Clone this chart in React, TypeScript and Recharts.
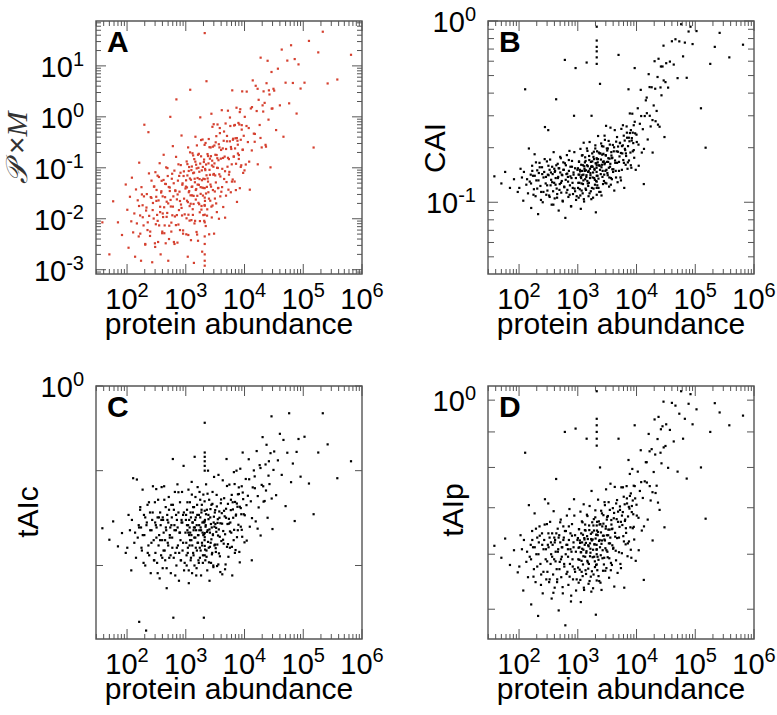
import React from "react";
import { ScatterChart, Scatter, XAxis, YAxis, ReferenceArea } from "recharts";

// protein abundance is shared by the four panels (same genes, same order)
const abundance = [
  38, 50, 58, 70, 82, 95,
  101, 106, 112, 118, 121, 127, 133, 137, 142, 147, 152, 158, 161, 167, 173, 179, 184, 191,
  197, 204, 211, 217, 223, 231, 238, 246, 253, 261, 268, 276, 284, 291, 298, 304, 309, 314,
  318, 325, 331, 338, 344, 352, 359, 366, 373, 380, 388, 396, 404, 411, 420, 428, 437, 446,
  455, 464, 473, 483, 493, 503, 513, 523, 534, 545, 556, 567, 578, 590, 602, 614, 627, 640,
  652, 665, 679, 692, 706, 721, 735, 750, 765, 781, 797, 813, 829, 846, 863, 881, 899, 917, 935,
  1005, 1020, 1035, 1050, 1065, 1080, 1095, 1110, 1125, 1140,
  1160, 1175, 1190, 1210, 1225, 1245, 1260, 1280, 1300, 1320,
  1335, 1355, 1375, 1395, 1415, 1440, 1460, 1480, 1500, 1525,
  1545, 1570, 1590, 1615, 1640, 1665, 1690, 1715, 1740, 1765,
  1790, 1820, 1845, 1875, 1900, 1930, 1960, 1990, 2030, 2060,
  2090, 2120, 2150, 2185, 2215, 2250, 2285, 2320, 2355, 2390,
  2425, 2460, 2500, 2535, 2575, 2610, 2650, 2690, 2730, 2770,
  2815, 2855, 2900, 2940, 2985, 3030, 3075, 3120,
  2100, 2100, 2100, 2100, 2100, 2100, 2100, 2100, 2100, 2100, 2100, 2100,
  3170, 3230, 3290, 3350, 3410, 3470, 3540, 3600, 3670, 3740,
  3810, 3880, 3950, 4030, 4100, 4180, 4260, 4340, 4420, 4500,
  4590, 4670, 4760, 4850, 4940, 5030, 5130, 5220, 5320, 5420,
  5520, 5630, 5730, 5840, 5950, 6060, 6180, 6290, 6410, 6530,
  6650, 6780, 6900, 7030, 7170, 7300, 7440, 7580, 7720, 7870,
  8010, 8160, 8320, 8470, 8630, 8800, 8960, 9130, 9300, 9480,
  10100, 10500, 10900, 11400, 11800, 12300, 12800, 13300, 13800, 14400,
  14900, 15500, 16100, 16800, 17400, 18100, 18800, 19600, 20300, 21100,
  22000, 22800, 23700, 24700, 25600, 26600, 27700, 28800, 29900, 31100,
  32000, 34500, 37000, 40000, 43000, 46000, 50000, 53500, 57500, 62000, 66500, 71500, 77000, 83000, 90000,
  105000, 125000, 150000, 180000, 215000, 260000,
  380000, 650000,
  // denser core
  160, 168, 176, 185, 194, 204, 214, 225, 236, 248, 260, 273, 287, 301, 316, 332, 349, 366, 384, 398,
  405, 418, 431, 444, 458, 472, 487, 502, 518, 534, 551, 568, 586, 604, 623, 642, 662, 683, 704, 726,
  749, 772, 796, 821, 847, 873, 900, 928, 957, 987,
  1012, 1030, 1048, 1066, 1085, 1104, 1123, 1143, 1163, 1183, 1204, 1225, 1246, 1268, 1290, 1312,
  1335, 1358, 1382, 1406, 1430, 1455, 1481, 1506, 1533, 1559, 1587, 1614, 1643, 1671, 1700, 1730,
  1760, 1791, 1822, 1854, 1886, 1919, 1952, 1986,
  2010, 2050, 2090, 2130, 2170, 2210, 2255, 2300, 2345, 2390, 2435, 2480, 2530, 2580, 2630, 2680,
  2730, 2785, 2840, 2895, 2950, 3010, 3070, 3130, 3190, 3250, 3310, 3380, 3440, 3510, 3580, 3650,
  3720, 3790, 3870,
  3990, 4150, 4310, 4480, 4660, 4840, 5030, 5230, 5430, 5650, 5870, 6100, 6340, 6590, 6850, 7120,
  7400, 7690, 7990, 8300, 8630, 8970, 9320, 9690, 9990,
  10800, 12000, 13400, 15000, 16700, 18700, 20800, 23200, 26000, 29000,
];

// panel A: P x M
const pxm = [
  0.0085, 0.002, 0.022, 0.0085, 0.0048, 0.047,
  0.015, 0.0027, 0.027, 0.0089, 0.064, 0.0054, 0.0127, 0.0018, 0.0376, 0.0081, 0.023, 0.0045,
  0.126, 0.0116, 0.0015, 0.03, 0.0184, 0.0074, 0.7, 0.0031, 0.0145, 0.0305, 0.006, 0.5,
  0.0114, 0.0046, 0.0266, 0.056, 0.0014, 0.0204, 0.0101, 0.043, 0.0033, 0.082, 0.0078, 0.027,
  0.0367, 0.0119, 0.07, 0.0035, 0.0229, 0.0074, 0.123, 0.0172, 0.002, 0.0327, 0.0556, 0.0052,
  0.0275, 0.0108, 0.18, 0.0168, 0.0074, 0.0484, 0.0033, 0.102, 0.0216, 0.013, 0.069, 0.0015,
  0.042, 0.0073, 0.035, 1.0, 0.0174, 0.0056, 0.061, 0.0117, 0.266, 0.0275, 0.0035, 0.088,
  0.0111, 0.035, 0.0075, 2.2, 0.024, 0.0034, 0.056, 0.117, 0.0148, 0.034, 0.006, 0.08, 0.019,
  0.43, 0.0116, 0.0495, 0.0051, 0.069, 0.0248,
  0.0427, 0.00495, 0.133, 0.0226, 0.0708, 0.0018, 0.251, 0.012, 0.0331, 0.1035,
  0.0092, 0.0617, 3.4, 0.0197, 0.0038, 0.09, 0.0422, 0.0288, 0.193, 0.0119,
  0.0785, 0.0195, 0.00136, 0.148, 0.061, 0.0091, 0.407, 0.0367, 0.115, 0.0055,
  0.275, 0.0282, 0.0468, 0.0037, 0.1, 0.188, 0.0193, 0.06, 0.009, 0.977,
  0.0417, 0.168, 0.0151, 0.089, 0.00226, 0.359, 0.0285, 0.061, 0.13, 0.0091,
  0.282, 0.0224, 0.09, 0.0072, 0.116, 5.0, 0.0422, 0.0153, 0.0617, 0.17,
  0.0331, 0.367, 0.00495, 0.0912, 0.151, 0.0226, 0.251, 0.0427, 1.15, 0.0106,
  0.138, 0.0182, 0.26, 0.0733, 0.716, 0.0051, 0.122, 0.0343,
  0.0012, 0.0015, 0.002, 0.0032, 0.0045, 44, 0.0085, 0.012, 0.018, 0.026, 0.04, 0.06,
  0.0708, 0.316, 0.02, 0.178, 0.1, 0.708, 0.0398, 0.141, 0.01, 0.251,
  0.479, 0.0676, 0.151, 0.0339, 1.35, 0.0955, 0.24, 0.017, 0.339, 0.0603,
  0.166, 0.0105, 0.741, 0.234, 0.0525, 0.331, 0.105, 1.32, 0.0372, 0.148,
  0.0832, 0.331, 0.661, 0.0331, 0.234, 0.117, 3.31, 0.0589, 0.372, 0.166,
  0.676, 0.0537, 0.24, 0.38, 0.12, 1.51, 0.0214, 0.339, 0.191, 0.759,
  0.178, 0.708, 0.0398, 1.41, 0.355, 0.112, 0.562, 3.16, 0.224, 0.0794,
  1.0, 0.116, 3.13, 0.32, 0.603, 0.0372, 1.46, 0.219, 5.19, 0.468,
  0.324, 4.07, 1.3, 0.117, 2.16, 0.692, 14.5, 0.251, 1.68, 3.16,
  1.88, 0.282, 4.57, 12.6, 0.881, 2.75, 0.102, 7.59, 1.46, 3.55,
  3.27, 0.55, 8.81, 1.68, 20.9, 0.407, 4.68, 12.7, 1.84, 25.4, 4.62, 13.6, 1.16, 10.7, 3.59,
  4.68, 30.9, 0.25, 18.4, 46.8, 4.52,
  5.4, 16.5,
  // denser core
  0.0178, 0.0051, 0.0417, 0.0107, 0.0275, 0.0032, 0.0166, 0.0085, 0.0776, 0.0056,
  0.0257, 0.0148, 0.0427, 0.0028, 0.0224, 0.0091, 0.066, 0.0135, 0.0347, 0.0056,
  0.0127, 0.0577, 0.0052, 0.0265, 0.048, 0.0109, 0.0986, 0.02, 0.004, 0.041,
  0.0234, 0.0084, 0.0764, 0.0173, 0.0497, 0.0032, 0.0362, 0.164, 0.0118, 0.03,
  0.0077, 0.0693, 0.0223, 0.113, 0.0163, 0.0465, 0.0059, 0.0851, 0.0122, 0.0392,
  0.0568, 0.0102, 0.0412, 0.118, 0.0212, 0.0048, 0.0867, 0.0349, 0.0177, 0.201,
  0.0288, 0.0583, 0.0094, 0.106, 0.0429, 0.0154, 0.175, 0.0281, 0.0804, 0.0081,
  0.052, 0.132, 0.0238, 0.0383, 0.0973, 0.0049, 0.063, 0.18, 0.0205, 0.0463,
  0.0836, 0.0134, 0.121, 0.0308, 0.35, 0.0178, 0.057, 0.0408, 0.104, 0.0118,
  0.0401, 0.145, 0.0186, 0.0951, 0.307, 0.0313, 0.0713, 0.0115, 0.186, 0.0536,
  0.122, 0.0248, 0.254, 0.0728, 0.0469, 0.169, 0.0173, 0.111, 0.637, 0.0366,
  0.105, 0.0757, 0.274, 0.0249, 0.18, 0.0516, 0.418, 0.0135, 0.154, 0.0991,
  0.0403, 0.29, 0.0745, 0.603, 0.0275,
  0.224, 0.0418, 0.156, 0.515, 0.0857, 0.0284, 0.422, 0.157, 0.0735, 0.97,
  0.256, 0.0536, 0.355, 0.166, 0.693, 0.0365, 0.383, 0.284, 0.149, 1.24,
  0.104, 0.687, 0.228, 0.425, 0.0889,
  0.661, 0.132, 1.55, 0.462, 3.55, 0.385, 1.27, 0.26, 3.31, 1.45,
];

// panel B: CAI
const cai = [
  0.139, 0.127, 0.147, 0.12, 0.134, 0.114,
  0.12, 0.153, 0.137, 0.102, 0.147, 0.42, 0.125, 0.134, 0.112, 0.198, 0.13, 0.142,
  0.093, 0.159, 0.14, 0.118, 0.184, 0.108, 0.132, 0.15, 0.086, 0.145, 0.165, 0.123,
  0.114, 0.156, 0.1, 0.137, 0.147, 0.26, 0.127, 0.11, 0.168, 0.116, 0.142, 0.25,
  0.141, 0.109, 0.151, 0.172, 0.124, 0.133, 0.097, 0.157, 0.143, 0.115, 0.189, 0.128,
  0.105, 0.149, 0.136, 0.37, 0.119, 0.111, 0.163, 0.138, 0.09, 0.154, 0.126, 0.146,
  0.175, 0.113, 0.131, 0.141, 0.101, 0.166, 0.151, 0.121, 0.61, 0.082, 0.16, 0.143,
  0.182, 0.117, 0.138, 0.107, 0.149, 0.192, 0.124, 0.157, 0.095, 0.136, 0.169, 0.128, 0.111,
  0.146, 0.3, 0.119, 0.154, 0.55, 0.103,
  0.154, 0.128, 0.106, 0.167, 0.142, 0.118, 0.148, 0.197, 0.092, 0.136,
  0.127, 0.181, 0.141, 0.112, 0.16, 0.132, 0.213, 0.101, 0.153, 0.166,
  0.177, 0.119, 0.15, 0.138, 0.59, 0.16, 0.192, 0.127, 0.147, 0.108,
  0.128, 0.171, 0.215, 0.136, 0.145, 0.115, 0.157, 0.3, 0.12, 0.168,
  0.157, 0.106, 0.178, 0.19, 0.136, 0.151, 0.125, 0.206, 0.088, 0.164,
  0.147, 0.173, 0.124, 0.166, 0.232, 0.135, 0.188, 0.114, 0.159, 0.45,
  0.186, 0.143, 0.211, 0.109, 0.161, 0.183, 0.149, 0.126, 0.203, 0.168,
  0.142, 0.233, 0.164, 0.128, 0.182, 0.264, 0.151, 0.198,
  0.58, 0.63, 0.68, 0.72, 0.78, 0.93, 0.12, 0.14, 0.16, 0.11, 0.13, 0.175,
  0.193, 0.141, 0.167, 0.218, 0.122, 0.174, 0.157, 0.258, 0.136, 0.181,
  0.134, 0.176, 0.207, 0.152, 0.191, 0.116, 0.25, 0.165, 0.149, 0.216,
  0.191, 0.165, 0.129, 0.203, 0.65, 0.149, 0.179, 0.212, 0.137, 0.187,
  0.254, 0.151, 0.186, 0.206, 0.171, 0.233, 0.12, 0.219, 0.194, 0.161,
  0.18, 0.262, 0.227, 0.153, 0.204, 0.42, 0.17, 0.217, 0.241, 0.188,
  0.25, 0.155, 0.226, 0.308, 0.191, 0.212, 0.266, 0.176, 0.55, 0.24,
  0.215, 0.33, 0.159, 0.271, 0.417, 0.188, 0.253, 0.126, 0.299, 0.365,
  0.378, 0.222, 0.509, 0.3, 0.262, 0.431, 0.188, 0.342, 0.6, 0.28,
  0.319, 0.491, 0.619, 0.261, 0.43, 0.389, 0.561, 0.731, 0.229, 0.46,
  0.585, 0.429, 0.597, 0.773, 0.575, 0.793, 0.484, 0.772, 0.96, 0.638, 0.76, 0.486, 0.875, 0.93, 0.746,
  0.88, 0.33, 0.2, 0.58, 0.72, 0.86,
  0.63, 0.74,
  // denser core
  0.127, 0.149, 0.11, 0.14, 0.166, 0.119, 0.132, 0.156, 0.103, 0.143,
  0.114, 0.173, 0.138, 0.124, 0.159, 0.107, 0.146, 0.129, 0.097, 0.153,
  0.147, 0.125, 0.16, 0.106, 0.136, 0.154, 0.117, 0.178, 0.128, 0.142,
  0.102, 0.151, 0.122, 0.164, 0.133, 0.113, 0.144, 0.13, 0.171, 0.11,
  0.139, 0.095, 0.157, 0.12, 0.142, 0.189, 0.115, 0.136, 0.108, 0.151,
  0.12, 0.142, 0.168, 0.128, 0.151, 0.109, 0.138, 0.161, 0.116, 0.149,
  0.182, 0.126, 0.142, 0.104, 0.158, 0.149, 0.134, 0.169, 0.117, 0.141,
  0.198, 0.131, 0.158, 0.123, 0.149, 0.18, 0.112, 0.153, 0.141, 0.167,
  0.104, 0.158, 0.186, 0.137, 0.146, 0.119, 0.173, 0.153, 0.133, 0.198,
  0.164, 0.131, 0.155, 0.191, 0.14, 0.173, 0.12, 0.16, 0.186, 0.151,
  0.114, 0.172, 0.156, 0.204, 0.138, 0.167, 0.185, 0.131, 0.162, 0.221,
  0.149, 0.181, 0.127, 0.167, 0.145, 0.198, 0.175, 0.155, 0.137, 0.208,
  0.163, 0.125, 0.189, 0.175, 0.152,
  0.147, 0.201, 0.17, 0.137, 0.229, 0.19, 0.167, 0.213, 0.132, 0.204,
  0.266, 0.165, 0.197, 0.186, 0.242, 0.166, 0.227, 0.309, 0.16, 0.219,
  0.242, 0.194, 0.278, 0.151, 0.236,
  0.208, 0.299, 0.197, 0.31, 0.432, 0.284, 0.423, 0.268, 0.561, 0.47,
];

// panel C: tAIc
const taic = [
  0.312, 0.284, 0.33, 0.269, 0.3, 0.255,
  0.266, 0.348, 0.307, 0.221, 0.334, 0.47, 0.277, 0.301, 0.245, 0.465, 0.289, 0.32,
  0.145, 0.363, 0.314, 0.26, 0.428, 0.235, 0.295, 0.341, 0.135, 0.327, 0.378, 0.271,
  0.25, 0.355, 0.216, 0.307, 0.334, 0.44, 0.283, 0.24, 0.386, 0.255, 0.32, 0.43,
  0.314, 0.235, 0.341, 0.394, 0.271, 0.295, 0.207, 0.355, 0.32, 0.25, 0.437, 0.283,
  0.225, 0.334, 0.301, 0.44, 0.26, 0.24, 0.371, 0.307, 0.191, 0.348, 0.277, 0.327,
  0.403, 0.245, 0.289, 0.314, 0.216, 0.378, 0.341, 0.266, 0.55, 0.15, 0.363, 0.32,
  0.42, 0.255, 0.307, 0.23, 0.334, 0.447, 0.271, 0.355, 0.203, 0.301, 0.386, 0.283, 0.24,
  0.327, 0.42, 0.26, 0.348, 0.52, 0.221,
  0.334, 0.277, 0.23, 0.363, 0.307, 0.255, 0.32, 0.428, 0.199, 0.295,
  0.271, 0.386, 0.301, 0.24, 0.341, 0.283, 0.456, 0.216, 0.327, 0.355,
  0.371, 0.25, 0.314, 0.289, 0.56, 0.334, 0.403, 0.266, 0.307, 0.225,
  0.26, 0.348, 0.437, 0.277, 0.295, 0.235, 0.32, 0.42, 0.245, 0.341,
  0.314, 0.212, 0.355, 0.378, 0.271, 0.301, 0.25, 0.411, 0.15, 0.327,
  0.283, 0.334, 0.24, 0.32, 0.447, 0.26, 0.363, 0.221, 0.307, 0.5,
  0.348, 0.266, 0.394, 0.203, 0.301, 0.341, 0.277, 0.235, 0.378, 0.314,
  0.255, 0.42, 0.295, 0.23, 0.327, 0.475, 0.271, 0.355,
  0.5, 0.52, 0.54, 0.56, 0.58, 0.74, 0.27, 0.3, 0.33, 0.25, 0.29, 0.36,
  0.362, 0.265, 0.313, 0.41, 0.229, 0.326, 0.294, 0.483, 0.254, 0.34,
  0.248, 0.325, 0.383, 0.281, 0.353, 0.214, 0.462, 0.305, 0.275, 0.399,
  0.344, 0.297, 0.232, 0.366, 0.55, 0.268, 0.323, 0.381, 0.247, 0.337,
  0.446, 0.266, 0.327, 0.362, 0.301, 0.41, 0.212, 0.386, 0.34, 0.283,
  0.308, 0.448, 0.387, 0.261, 0.349, 0.5, 0.29, 0.372, 0.412, 0.321,
  0.413, 0.257, 0.372, 0.508, 0.316, 0.35, 0.44, 0.291, 0.58, 0.396,
  0.347, 0.467, 0.282, 0.407, 0.549, 0.316, 0.389, 0.24, 0.436, 0.501,
  0.477, 0.33, 0.587, 0.406, 0.37, 0.523, 0.294, 0.445, 0.658, 0.388,
  0.39, 0.526, 0.618, 0.34, 0.48, 0.448, 0.577, 0.78, 0.31, 0.503,
  0.585, 0.409, 0.544, 0.676, 0.483, 0.643, 0.374, 0.579, 0.8, 0.455, 0.53, 0.331, 0.583, 0.648, 0.476,
  0.66, 0.45, 0.35, 0.58, 0.8, 0.62,
  0.47, 0.54,
  // denser core
  0.314, 0.371, 0.266, 0.295, 0.348, 0.23, 0.32, 0.255, 0.386, 0.307,
  0.277, 0.355, 0.24, 0.327, 0.289, 0.216, 0.341, 0.283, 0.334, 0.245,
  0.341, 0.26, 0.394, 0.283, 0.314, 0.225, 0.334, 0.271, 0.363, 0.295,
  0.25, 0.32, 0.289, 0.378, 0.245, 0.307, 0.212, 0.348, 0.266, 0.314,
  0.419, 0.255, 0.301, 0.24, 0.334, 0.327, 0.277, 0.355, 0.235, 0.301,
  0.348, 0.25, 0.32, 0.386, 0.266, 0.301, 0.221, 0.334, 0.314, 0.283,
  0.355, 0.245, 0.295, 0.411, 0.271, 0.327, 0.255, 0.307, 0.371, 0.23,
  0.314, 0.289, 0.341, 0.212, 0.32, 0.378, 0.277, 0.295, 0.24, 0.348,
  0.307, 0.266, 0.394, 0.26, 0.307, 0.363, 0.277, 0.327, 0.235, 0.295,
  0.329, 0.297, 0.389, 0.262, 0.316, 0.35, 0.247, 0.303, 0.414, 0.279,
  0.336, 0.236, 0.309, 0.268, 0.365, 0.323, 0.285, 0.252, 0.381, 0.297,
  0.227, 0.343, 0.316, 0.273, 0.323, 0.257, 0.303, 0.373, 0.273, 0.336,
  0.232, 0.309, 0.358, 0.291, 0.218,
  0.395, 0.324, 0.284, 0.36, 0.223, 0.34, 0.441, 0.274, 0.324, 0.304,
  0.394, 0.268, 0.364, 0.494, 0.255, 0.346, 0.382, 0.307, 0.436, 0.236,
  0.368, 0.308, 0.418, 0.35, 0.278,
  0.377, 0.466, 0.339, 0.433, 0.311, 0.511, 0.44, 0.425, 0.54, 0.398,
];

// panel D: tAIp
const taip = [
  0.617, 0.593, 0.632, 0.579, 0.608, 0.565,
  0.576, 0.639, 0.61, 0.532, 0.629, 0.84, 0.585, 0.605, 0.556, 0.706, 0.595, 0.619,
  0.508, 0.648, 0.614, 0.571, 0.687, 0.547, 0.6, 0.634, 0.489, 0.624, 0.658, 0.581,
  0.561, 0.643, 0.527, 0.61, 0.629, 0.72, 0.59, 0.552, 0.663, 0.566, 0.619, 0.71,
  0.614, 0.547, 0.634, 0.668, 0.581, 0.6, 0.518, 0.643, 0.619, 0.561, 0.692, 0.59,
  0.537, 0.629, 0.605, 0.77, 0.571, 0.552, 0.653, 0.61, 0.498, 0.639, 0.585, 0.624,
  0.673, 0.556, 0.595, 0.614, 0.527, 0.658, 0.634, 0.576, 0.9, 0.474, 0.648, 0.619,
  0.682, 0.566, 0.61, 0.542, 0.629, 0.697, 0.581, 0.643, 0.513, 0.605, 0.663, 0.59, 0.552,
  0.624, 0.72, 0.571, 0.639, 0.91, 0.532,
  0.633, 0.59, 0.546, 0.652, 0.614, 0.57, 0.623, 0.691, 0.512, 0.604,
  0.587, 0.669, 0.611, 0.558, 0.64, 0.596, 0.708, 0.533, 0.63, 0.65,
  0.662, 0.569, 0.623, 0.603, 0.88, 0.637, 0.681, 0.584, 0.618, 0.544,
  0.581, 0.65, 0.704, 0.596, 0.611, 0.557, 0.631, 0.74, 0.567, 0.645,
  0.63, 0.536, 0.66, 0.674, 0.595, 0.62, 0.575, 0.694, 0.491, 0.64,
  0.609, 0.649, 0.569, 0.639, 0.719, 0.589, 0.669, 0.549, 0.629, 0.8,
  0.663, 0.598, 0.693, 0.533, 0.628, 0.658, 0.608, 0.568, 0.683, 0.638,
  0.593, 0.713, 0.628, 0.568, 0.653, 0.744, 0.608, 0.673,
  0.86, 0.88, 0.9, 0.92, 0.94, 1.03, 0.58, 0.61, 0.64, 0.55, 0.6, 0.66,
  0.679, 0.594, 0.639, 0.713, 0.555, 0.651, 0.622, 0.758, 0.583, 0.662,
  0.579, 0.653, 0.699, 0.613, 0.676, 0.539, 0.75, 0.636, 0.607, 0.71,
  0.674, 0.633, 0.564, 0.691, 0.88, 0.604, 0.657, 0.703, 0.581, 0.668,
  0.749, 0.602, 0.661, 0.69, 0.637, 0.726, 0.537, 0.708, 0.673, 0.62,
  0.644, 0.752, 0.71, 0.596, 0.68, 0.82, 0.626, 0.698, 0.728, 0.656,
  0.734, 0.593, 0.704, 0.796, 0.654, 0.685, 0.753, 0.63, 0.92, 0.722,
  0.682, 0.789, 0.608, 0.74, 0.847, 0.649, 0.723, 0.551, 0.764, 0.814,
  0.814, 0.673, 0.894, 0.752, 0.717, 0.85, 0.628, 0.788, 0.938, 0.735,
  0.753, 0.879, 0.946, 0.695, 0.84, 0.811, 0.917, 0.995, 0.656, 0.859,
  0.923, 0.799, 0.906, 0.991, 0.872, 0.982, 0.789, 0.956, 1.03, 0.88, 0.94, 0.771, 0.988, 1.02, 0.923,
  0.97, 0.8, 0.675, 0.9, 0.99, 0.96,
  0.92, 0.95,
  // denser core
  0.59, 0.629, 0.557, 0.614, 0.653, 0.576, 0.6, 0.638, 0.542, 0.619,
  0.566, 0.662, 0.61, 0.586, 0.643, 0.552, 0.624, 0.595, 0.528, 0.634,
  0.624, 0.586, 0.643, 0.547, 0.605, 0.634, 0.571, 0.667, 0.59, 0.614,
  0.538, 0.629, 0.581, 0.648, 0.6, 0.562, 0.619, 0.595, 0.658, 0.557,
  0.61, 0.523, 0.638, 0.576, 0.614, 0.682, 0.566, 0.605, 0.552, 0.629,
  0.574, 0.613, 0.652, 0.589, 0.628, 0.551, 0.604, 0.643, 0.566, 0.624,
  0.667, 0.58, 0.609, 0.537, 0.633, 0.619, 0.595, 0.649, 0.562, 0.606,
  0.684, 0.587, 0.631, 0.572, 0.616, 0.66, 0.549, 0.622, 0.603, 0.642,
  0.53, 0.628, 0.667, 0.594, 0.609, 0.561, 0.649, 0.62, 0.586, 0.678,
  0.632, 0.579, 0.619, 0.668, 0.595, 0.646, 0.558, 0.627, 0.662, 0.614,
  0.546, 0.645, 0.621, 0.687, 0.592, 0.638, 0.664, 0.58, 0.63, 0.706,
  0.612, 0.658, 0.573, 0.639, 0.605, 0.681, 0.651, 0.622, 0.592, 0.695,
  0.634, 0.569, 0.672, 0.652, 0.618,
  0.611, 0.688, 0.644, 0.588, 0.718, 0.668, 0.634, 0.695, 0.573, 0.682,
  0.749, 0.626, 0.67, 0.654, 0.722, 0.622, 0.702, 0.783, 0.609, 0.69,
  0.717, 0.657, 0.752, 0.587, 0.707,
  0.677, 0.762, 0.658, 0.761, 0.844, 0.737, 0.835, 0.712, 0.908, 0.855,
];

const PAGE_W = 777;
const PAGE_H = 715;
const PW = 266; // plot box width
const PH = 253; // plot box height
const FONT = '"Liberation Sans", Arial, Helvetica, sans-serif';
const AXIS = "#555";
const DOT = 2.2;

const X_DOMAIN: [number, number] = [29.6, 1e6];
const xMajor = [1e2, 1e3, 1e4, 1e5, 1e6];

// 2..9 x 10^n ticks between lo and hi
const minorTicks = (lo: number, hi: number) => {
  const out: number[] = [];
  for (let e = Math.floor(Math.log10(lo)); e < Math.ceil(Math.log10(hi)); e++) {
    for (let k = 2; k <= 9; k++) {
      const v = k * Math.pow(10, e);
      if (v >= lo && v <= hi) out.push(v);
    }
  }
  return out;
};

const xTicks = [...minorTicks(X_DOMAIN[0], X_DOMAIN[1]), ...xMajor].sort((a, b) => a - b);

const exponent = (v: number) => String(Math.round(Math.log10(v)));

type Panel = {
  letter: string;
  left: number;
  top: number;
  ys: number[];
  color: string;
  yDomain: [number, number];
  yMajor: number[];
  yMinor: number[];
  yLabels: number[];
  majorLen: number;
  minorLen: number;
};

const panels: Panel[] = [
  {
    letter: "A", left: 96, top: 21, ys: pxm, color: "#d5402f",
    yDomain: [0.000824, 76],
    yMajor: [1e-3, 1e-2, 1e-1, 1, 10],
    yMinor: minorTicks(0.000824, 76),
    yLabels: [1e-3, 1e-2, 1e-1, 1, 10],
    majorLen: 10, minorLen: 5,
  },
  {
    letter: "B", left: 488, top: 21, ys: cai, color: "#000",
    yDomain: [0.0402, 1],
    yMajor: [0.1, 1],
    yMinor: minorTicks(0.0402, 1),
    yLabels: [0.1, 1],
    majorLen: 10, minorLen: 6,
  },
  {
    letter: "C", left: 96, top: 386, ys: taic, color: "#000",
    yDomain: [0.126, 1],
    yMajor: [0.23, 0.5, 1],
    yMinor: [],
    yLabels: [1],
    majorLen: 7, minorLen: 0,
  },
  {
    letter: "D", left: 488, top: 386, ys: taip, color: "#000",
    yDomain: [0.453, 1.048],
    yMajor: [0.5, 0.6, 0.7, 0.8, 0.9, 1],
    yMinor: [],
    yLabels: [1],
    majorLen: 7, minorLen: 0,
  },
];

// bottom tick also draws its mirror on the top edge, ticks point inwards
function BottomTick(props: any) {
  const { x, payload, panel } = props;
  const v = payload.value;
  const major = xMajor.includes(v);
  const len = major ? 10 : 5;
  const bottom = panel.top + PH;
  return (
    <g>
      <line x1={x} x2={x} y1={bottom} y2={bottom - len} stroke={AXIS} strokeWidth={1} />
      <line x1={x} x2={x} y1={panel.top} y2={panel.top + len} stroke={AXIS} strokeWidth={1} />
      {major && (
        <text x={x} y={bottom + 35} textAnchor="middle" fontFamily={FONT} fontSize={29} fill="#000">
          10
          <tspan dy={-12} fontSize={20}>{exponent(v)}</tspan>
        </text>
      )}
    </g>
  );
}

function SideTick(props: any) {
  const { y, payload, panel } = props;
  const v = payload.value;
  const p = panel as Panel;
  const len = p.yMajor.includes(v) ? p.majorLen : p.minorLen;
  const right = p.left + PW;
  return (
    <g>
      {len > 0 && <line x1={p.left} x2={p.left + len} y1={y} y2={y} stroke={AXIS} strokeWidth={1} />}
      {len > 0 && <line x1={right} x2={right - len} y1={y} y2={y} stroke={AXIS} strokeWidth={1} />}
      {p.yLabels.includes(v) && (
        <text x={p.left - 12} y={y + 11} textAnchor="end" fontFamily={FONT} fontSize={29} fill="#000">
          10
          <tspan dy={-11} fontSize={20}>{exponent(v)}</tspan>
        </text>
      )}
    </g>
  );
}

function PanelChart({ panel }: { panel: Panel }) {
  const points = abundance.map((x, i) => ({ x, y: panel.ys[i] })).filter((d) => d.y !== undefined);
  const yTicks = [...panel.yMinor, ...panel.yMajor].sort((a, b) => a - b);
  return (
    <div style={{ position: "absolute", left: 0, top: 0 }}>
      <ScatterChart
        width={PAGE_W}
        height={PAGE_H}
        margin={{
          top: panel.top,
          left: panel.left - 30,
          right: PAGE_W - panel.left - PW,
          bottom: PAGE_H - panel.top - PH - 30,
        }}
      >
        <XAxis
          type="number"
          dataKey="x"
          scale="log"
          domain={X_DOMAIN}
          allowDataOverflow
          ticks={xTicks}
          interval={0}
          height={30}
          axisLine={false}
          tickLine={false}
          tickSize={0}
          tickMargin={0}
          tick={(props: any) => <BottomTick {...props} panel={panel} />}
        />
        <YAxis
          type="number"
          dataKey="y"
          scale="log"
          domain={panel.yDomain}
          allowDataOverflow
          ticks={yTicks}
          interval={0}
          width={30}
          axisLine={false}
          tickLine={false}
          tickSize={0}
          tickMargin={0}
          tick={(props: any) => <SideTick {...props} panel={panel} />}
        />
        <ReferenceArea
          x1={X_DOMAIN[0]}
          x2={X_DOMAIN[1]}
          y1={panel.yDomain[0]}
          y2={panel.yDomain[1]}
          fill="none"
          fillOpacity={0}
          stroke={AXIS}
          strokeWidth={1.4}
          ifOverflow="visible"
        />
        <Scatter
          data={points}
          isAnimationActive={false}
          shape={(s: any) => (
            <rect x={s.cx - DOT / 2} y={s.cy - DOT / 2} width={DOT} height={DOT} fill={panel.color} />
          )}
        />
      </ScatterChart>
    </div>
  );
}

export default function App() {
  return (
    <div style={{ position: "absolute", left: 0, top: 0, width: PAGE_W, height: PAGE_H, background: "#fff" }}>
      {panels.map((p) => (
        <PanelChart key={p.letter} panel={p} />
      ))}
      <svg
        width={PAGE_W}
        height={PAGE_H}
        style={{ position: "absolute", left: 0, top: 0, pointerEvents: "none" }}
      >
        {panels.map((p) => (
          <g key={p.letter}>
            <text x={p.left + 11} y={p.top + 31} fontFamily={FONT} fontWeight="bold" fontSize={30} fill="#000">
              {p.letter}
            </text>
            <text x={p.left + PW / 2} y={p.top + PH + 60} textAnchor="middle" fontFamily={FONT} fontSize={30} fill="#000">
              protein abundance
            </text>
          </g>
        ))}
        <text transform="translate(27,148) rotate(-90)" textAnchor="middle" fontSize={30} fill="#333">
          <tspan fontFamily='"DejaVu Serif", serif' fontStyle="italic">𝒫</tspan>
          <tspan fontFamily={FONT}> ×</tspan>
          <tspan fontFamily='"Liberation Serif", serif' fontStyle="italic">M</tspan>
        </text>
        <text transform="translate(445,148) rotate(-90)" textAnchor="middle" fontFamily={FONT} fontSize={30} fill="#000">
          CAI
        </text>
        <text transform="translate(38,512) rotate(-90)" textAnchor="middle" fontFamily={FONT} fontSize={30} fill="#000">
          tAIc
        </text>
        <text transform="translate(463,510) rotate(-90)" textAnchor="middle" fontFamily={FONT} fontSize={30} fill="#000">
          tAIp
        </text>
      </svg>
    </div>
  );
}
